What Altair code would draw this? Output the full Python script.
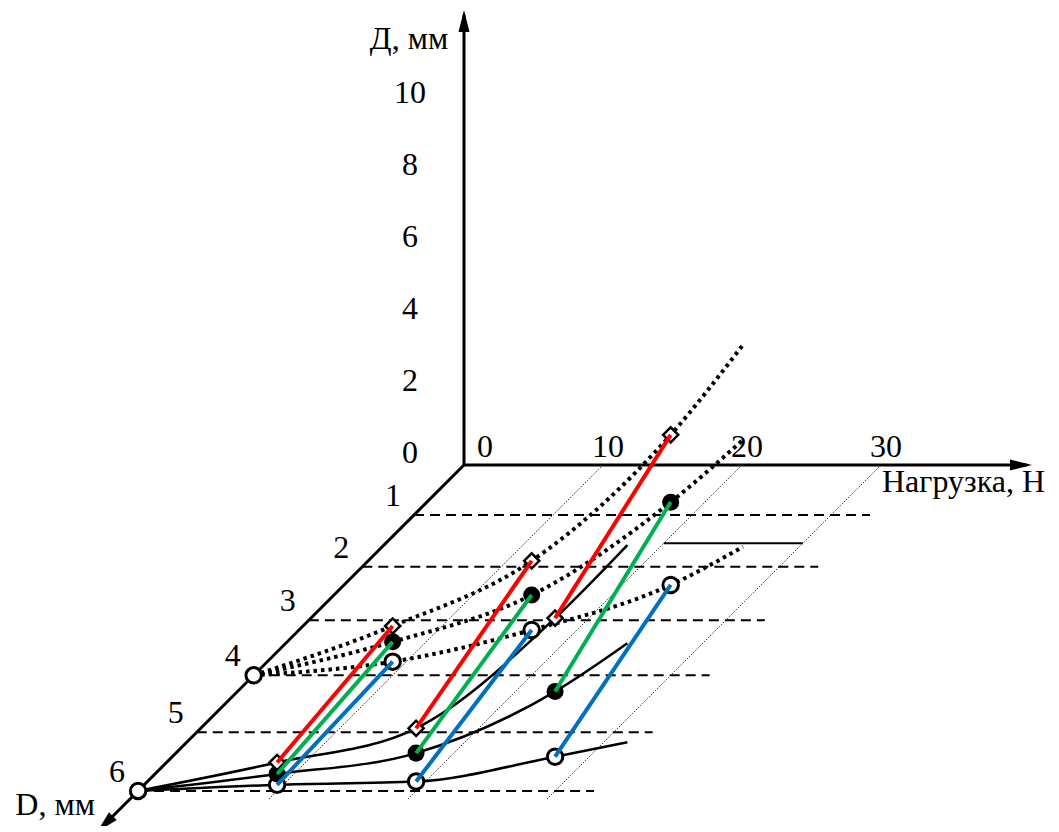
import altair as alt
import pandas as pd

# ---------------- data ----------------
# load values (N) of the curve nodes
LOADS = [0, 10, 20, 30, 35.2]
# Д (mm) on the D = 6 mm plane (solid black curves)
D6_DIAMOND = [0, 0.79, 1.74, 4.80, 6.83]
D6_FILLED = [0, 0.47, 1.05, 2.76, 4.10]
D6_CIRCLE = [0, 0.17, 0.26, 0.95, 1.35]
# Д (mm) on the D = 4 mm plane (dotted black curves)
D4_DIAMOND = [0, 1.37, 3.18, 6.68, 9.18]
D4_FILLED = [0, 0.93, 2.23, 4.81, 6.54]
D4_CIRCLE = [0, 0.38, 1.26, 2.51, 3.57]
MARKER_LOADS = [10, 20, 30]

# axis ticks
H_TICKS = [0, 2, 4, 6, 8, 10]        # Д, мм
N_TICKS = [0, 10, 20, 30]            # Нагрузка, Н
D_TICKS = [1, 2, 3, 4, 5, 6]         # D, мм
DASH_END_LOAD = 32.8                 # dashed level lines end at this load
GUIDE_LOADS = [10, 20, 30]           # thin dotted guides
GUIDE_D_END = 6.15
LEADER_D, LEADER_N0, LEADER_N1 = 1.55, 20, 30
AXIS_H_END, AXIS_N_END, AXIS_D_END = 12.5, 40.5, 6.6
ARROW_H, ARROW_N, ARROW_D = 12.33, 40.07, 6.55

SERIES = ["diamond", "filled", "circle"]
COLORS = ["#FF0000", "#00B050", "#0070C0"]
PLANES = {6: [D6_DIAMOND, D6_FILLED, D6_CIRCLE], 4: [D4_DIAMOND, D4_FILLED, D4_CIRCLE]}

FONT = "Times New Roman, Liberation Serif, serif"
FS = 32


# oblique (slightly perspective) projection of (load N, depth D, Д) onto the page
def proj(n, d, h):
    off = 49.1 * d + 0.87 * d * d
    return 464 - off + 13.9 * n, 465 + off - 36 * h


def row(n, d, h, **kw):
    x, y = proj(n, d, h)
    r = {"x": x, "y": y}
    r.update(kw)
    return r


W, H = 1043, 818
X = lambda: alt.X("x:Q", scale=alt.Scale(domain=[8, 8 + W], nice=False, zero=False), axis=None)
Y = lambda: alt.Y("y:Q", scale=alt.Scale(domain=[8 + H, 8], nice=False, zero=False), axis=None)


def line_layer(rows, **mk):
    df = pd.DataFrame(rows)
    return alt.Chart(df).mark_line(**mk).encode(
        x=X(), y=Y(), detail="g:N", order=alt.Order("o:Q"))


# guides
guide_rows = []
for n in GUIDE_LOADS:
    guide_rows += [row(n, 0, 0, g=f"g{n}", o=0), row(n, GUIDE_D_END, 0, g=f"g{n}", o=1)]
guides = line_layer(guide_rows, color="#333333", strokeWidth=1, strokeDash=[1.5, 1.5])

# dashed level lines
dash_rows = []
for d in D_TICKS:
    dash_rows += [row(0, d, 0, g=f"d{d}", o=0), row(DASH_END_LOAD, d, 0, g=f"d{d}", o=1)]
dashes = line_layer(dash_rows, color="black", strokeWidth=2, strokeDash=[10, 6])

leader = line_layer([row(LEADER_N0, LEADER_D, 0, g="l", o=0), row(LEADER_N1, LEADER_D, 0, g="l", o=1)],
                    color="black", strokeWidth=2)

# axes
axis_rows = [row(0, 0, 0, g="h", o=0), row(0, 0, AXIS_H_END, g="h", o=1),
             row(0, 0, 0, g="n", o=0), row(AXIS_N_END, 0, 0, g="n", o=1),
             row(0, 0, 0, g="d", o=0), row(0, AXIS_D_END, 0, g="d", o=1)]
axes = line_layer(axis_rows, color="black", strokeWidth=3)

arrow_df = pd.DataFrame([row(0, 0, ARROW_H, a=0), row(ARROW_N, 0, 0, a=90), row(0, ARROW_D, 0, a=225)])
arrows = alt.Chart(arrow_df).mark_point(
    shape="M0,-1L0.5,1L-0.5,1Z", filled=True, color="black", size=484, opacity=1
).encode(x=X(), y=Y(), angle=alt.Angle("a:Q", scale=None))

# curves
solid_rows, dot_rows = [], []
for d, vals in PLANES.items():
    for s, hs in zip(SERIES, vals):
        for i, (n, h) in enumerate(zip(LOADS, hs)):
            (solid_rows if d == 6 else dot_rows).append(row(n, d, h, g=f"{d}{s}", o=i))
solid = line_layer(solid_rows, color="black", strokeWidth=2.5, interpolate="monotone")
dotted = line_layer(dot_rows, color="black", strokeWidth=4, strokeDash=[3.5, 4], interpolate="monotone")

# markers
mk = {s: [] for s in SERIES}
for d, vals in PLANES.items():
    for s, hs in zip(SERIES, vals):
        for n in MARKER_LOADS:
            mk[s].append(row(n, d, hs[LOADS.index(n)]))
origin_df = pd.DataFrame([row(0, 4, 0), row(0, 6, 0)])

m_diamond = alt.Chart(pd.DataFrame(mk["diamond"])).mark_point(
    shape="diamond", filled=True, fill="white", stroke="black", strokeWidth=2.5, size=230, opacity=1
).encode(x=X(), y=Y())
m_filled = alt.Chart(pd.DataFrame(mk["filled"])).mark_point(
    shape="circle", filled=True, color="black", size=290, opacity=1
).encode(x=X(), y=Y())
m_circle = alt.Chart(pd.DataFrame(mk["circle"])).mark_point(
    shape="circle", filled=True, fill="white", stroke="black", strokeWidth=3, size=240, opacity=1
).encode(x=X(), y=Y())
m_origin = alt.Chart(origin_df).mark_point(
    shape="circle", filled=True, fill="white", stroke="black", strokeWidth=3, size=240, opacity=1
).encode(x=X(), y=Y())

# coloured connectors between the D = 6 and D = 4 planes
con_rows = []
for s, v6, v4 in zip(SERIES, PLANES[6], PLANES[4]):
    for n in MARKER_LOADS:
        i = LOADS.index(n)
        con_rows += [row(n, 6, v6[i], g=f"{s}{n}", s=s, o=0), row(n, 4, v4[i], g=f"{s}{n}", s=s, o=1)]
connect = alt.Chart(pd.DataFrame(con_rows)).mark_line(strokeWidth=4).encode(
    x=X(), y=Y(), detail="g:N", order=alt.Order("o:Q"),
    color=alt.Color("s:N", scale=alt.Scale(domain=SERIES, range=COLORS), legend=None))


# text
def text_layer(rows, **kw):
    base = dict(font=FONT, fontSize=FS, color="black", baseline="middle")
    base.update(kw)
    return alt.Chart(pd.DataFrame(rows)).mark_text(**base).encode(x=X(), y=Y(), text="t:N")


t_h = text_layer([row(0, 0, v, t=str(v)) for v in H_TICKS], dx=-54, dy=-12, align="center")
t_n0 = text_layer([row(0, 0, 0, t=str(N_TICKS[0]))], dx=21, dy=-18, align="center")
t_n = text_layer([row(v, 0, 0, t=str(v)) for v in N_TICKS[1:]], dx=5, dy=-18, align="center")
t_d = text_layer([row(0, v, 0, t=str(v)) for v in D_TICKS], dx=-21, dy=-19, align="center")
t_hl = text_layer([row(0, 0, 11.83, t="Д, мм")], dx=-55, align="center")
t_nl = text_layer([row(30, 0, 0, t="Нагрузка,  Н")], dx=1, dy=17, align="left")
t_dl = text_layer([row(0, ARROW_D, 0, t="D, мм")], dx=-50, dy=-19, align="center")

chart = alt.layer(
    guides, dashes, leader, axes, arrows, solid, dotted,
    m_origin, m_circle, m_filled, m_diamond, connect,
    t_h, t_n0, t_n, t_d, t_hl, t_nl, t_dl,
).properties(width=W, height=H, padding=0, autosize=alt.AutoSizeParams(type="none")
).configure_view(stroke=None)

chart.save("out.html", embed_options={"renderer": "svg", "actions": False})
